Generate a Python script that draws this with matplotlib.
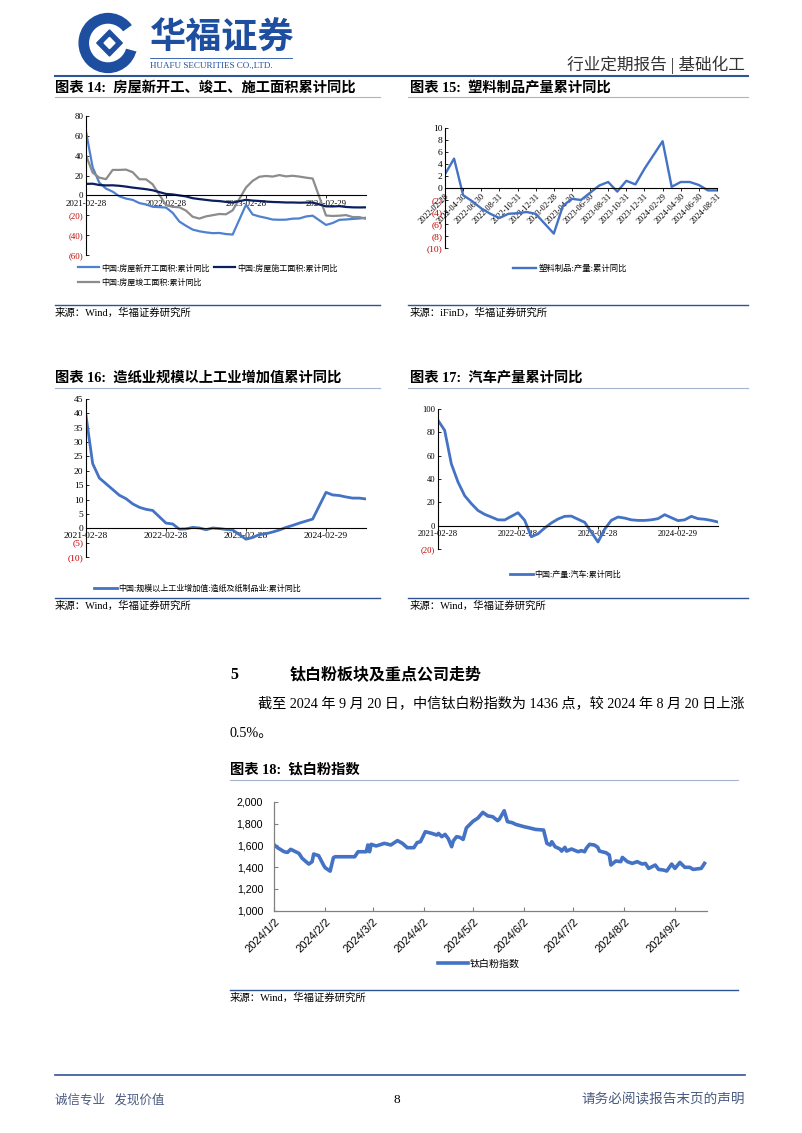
import numpy as np
import pandas as pd
import matplotlib
matplotlib.use('Agg')
import matplotlib.pyplot as plt
from matplotlib.lines import Line2D
from matplotlib.patches import Circle, Polygon, Wedge

plt.rcParams['font.family'] = ['Liberation Serif', 'Noto Sans CJK SC']
plt.rcParams['axes.unicode_minus'] = False

# ---------------- 数据 ----------------
# 图表14: 房屋新开工/施工/竣工面积累计同比 (月度, 无1月)
dates14 = ['2021-02', '2021-03', '2021-04', '2021-05', '2021-06', '2021-07', '2021-08', '2021-09',
           '2021-10', '2021-11', '2021-12',
           '2022-02', '2022-03', '2022-04', '2022-05', '2022-06', '2022-07', '2022-08', '2022-09',
           '2022-10', '2022-11', '2022-12',
           '2023-02', '2023-03', '2023-04', '2023-05', '2023-06', '2023-07', '2023-08', '2023-09',
           '2023-10', '2023-11', '2023-12',
           '2024-02', '2024-03', '2024-04', '2024-05', '2024-06', '2024-07', '2024-08']
new_start = [64.3, 28.2, 12.8, 6.9, 3.8, -0.9, -3.2, -4.5, -7.7, -9.1, -11.4,
             -12.2, -17.5, -26.3, -30.6, -34.4, -36.1, -37.2, -38.0, -37.8, -38.9, -39.4,
             -9.4, -19.2, -21.2, -22.6, -24.3, -24.5, -24.4, -23.4, -23.2, -21.2, -20.4,
             -29.7, -27.8, -24.6, -24.2, -23.7, -23.2, -22.5]
under_constr = [11.6, 11.8, 10.5, 10.1, 10.2, 9.7, 8.9, 7.9, 7.1, 6.3, 5.2,
                1.5, 1.0, 0.0, -1.0, -2.8, -3.7, -4.5, -5.3, -5.7, -6.5, -7.2,
                -4.4, -5.2, -5.6, -6.2, -6.6, -6.8, -7.1, -7.1, -7.3, -7.2, -7.2,
                -11.0, -11.1, -10.8, -11.6, -12.0, -12.1, -12.0]
completed = [40.4, 22.9, 17.9, 16.4, 25.7, 25.7, 26.0, 23.4, 16.3, 16.2, 11.2,
             -9.8, -11.5, -11.9, -15.3, -21.5, -23.3, -21.1, -19.9, -18.7, -19.0, -15.0,
             8.0, 14.7, 18.8, 19.6, 19.0, 20.5, 19.2, 19.8, 19.0, 17.9, 17.0,
             -20.2, -20.7, -20.4, -19.8, -21.8, -21.8, -23.6]

# 图表15: 塑料制品产量累计同比
dates15 = ['2022-02', '2022-03', '2022-04', '2022-05', '2022-06', '2022-07', '2022-08', '2022-09',
           '2022-10', '2022-11', '2022-12',
           '2023-02', '2023-03', '2023-04', '2023-05', '2023-06', '2023-07', '2023-08', '2023-09',
           '2023-10', '2023-11', '2023-12',
           '2024-02', '2024-03', '2024-04', '2024-05', '2024-06', '2024-07', '2024-08']
plastic = [2.3, 4.9, -1.2, -2.2, -3.4, -4.3, -5.0, -4.3, -4.2, -4.0, -4.3,
           -7.6, -3.0, -1.8, -2.0, -0.8, 0.4, 1.0, -0.6, 1.2, 0.6, 3.2,
           7.8, 0.2, 1.0, 1.0, 0.5, -0.4, -0.4]
labels15 = ['2022-02-28', '2022-04-30', '2022-06-30', '2022-08-31', '2022-10-31', '2022-12-31',
            '2023-02-28', '2023-04-30', '2023-06-30', '2023-08-31', '2023-10-31', '2023-12-31',
            '2024-02-29', '2024-04-30', '2024-06-30', '2024-08-31']

# 图表16: 造纸业增加值累计同比
paper = [39.2, 22.5, 17.5, 15.5, 13.5, 11.5, 10.3, 8.5, 7.3, 6.6, 6.2,
         1.8, 1.5, -0.3, -0.2, 0.3, 0.1, -0.5, 0.1, -0.1, -0.4, -0.6,
         -3.8, -3.2, -2.2, -1.9, -1.3, -0.6, 0.3, 1.0, 1.8, 2.5, 3.2,
         12.5, 11.6, 11.4, 10.9, 10.5, 10.5, 10.2]

# 图表17: 汽车产量累计同比
autos = [90.3, 81.7, 53.0, 37.4, 25.7, 18.9, 13.0, 9.7, 7.4, 5.0, 4.9,
         11.1, 4.6, -9.5, -7.0, -2.0, 2.3, 5.7, 8.0, 8.2, 5.5, 2.9,
         -14.0, -3.0, 4.6, 7.4, 6.5, 5.0, 4.5, 4.5, 5.0, 6.0, 9.4,
         4.3, 5.0, 8.0, 6.0, 5.5, 4.5, 3.1]
labels_yr = ['2021-02-28', '2022-02-28', '2023-02-28', '2024-02-29']

# 图表18: 钛白粉指数
dates18 = ['01-02', '01-04', '01-08', '01-10', '01-12', '01-15', '01-17', '01-19', '01-23', '01-25',
           '01-26', '01-29', '02-01', '02-02', '02-05', '02-07', '02-08', '02-19', '02-20', '02-22',
           '02-26', '02-27', '02-28', '02-29', '03-01', '03-04', '03-06', '03-09', '03-13', '03-17',
           '03-20', '03-23', '03-27', '03-29', '03-31', '04-03', '04-07', '04-10', '04-11', '04-13',
           '04-15', '04-17', '04-19', '04-20', '04-22', '04-24', '04-26', '04-28', '05-02', '05-05',
           '05-08', '05-11', '05-14', '05-17', '05-18', '05-21', '05-23', '05-26', '05-28', '06-02',
           '06-05', '06-09', '06-14', '06-16', '06-18', '06-19', '06-21', '06-24', '06-25', '06-27',
           '06-28', '07-01', '07-05', '07-07', '07-09', '07-10', '07-12', '07-15', '07-17', '07-18',
           '07-22', '07-24', '07-25', '07-28', '07-31', '08-01', '08-04', '08-07', '08-10', '08-13',
           '08-15', '08-17', '08-21', '08-23', '08-26', '08-28', '08-31', '09-02', '09-05', '09-08',
           '09-11', '09-13', '09-18', '09-20']
tio2 = [1603, 1578, 1541, 1535, 1563, 1541, 1526, 1480, 1428, 1449,
        1520, 1505, 1418, 1394, 1363, 1486, 1495, 1495, 1495, 1541,
        1541, 1541, 1603, 1541, 1609, 1594, 1603, 1618, 1603, 1643,
        1618, 1578, 1578, 1625, 1633, 1725, 1709, 1694, 1709, 1679,
        1700, 1660, 1587, 1640, 1679, 1673, 1654, 1760, 1820, 1850,
        1902, 1870, 1862, 1826, 1838, 1917, 1817, 1807, 1792, 1771,
        1761, 1746, 1740, 1618, 1602, 1633, 1587, 1566, 1547, 1581,
        1547, 1566, 1541, 1551, 1541, 1572, 1609, 1602, 1581, 1547,
        1532, 1511, 1419, 1456, 1450, 1489, 1450, 1434, 1450, 1428,
        1434, 1388, 1419, 1379, 1373, 1364, 1428, 1388, 1443, 1398,
        1398, 1379, 1388, 1434]
ticks18 = ['2024-01-02', '2024-02-02', '2024-03-02', '2024-04-02', '2024-05-02',
           '2024-06-02', '2024-07-02', '2024-08-02', '2024-09-02']
labels18 = ['2024/1/2', '2024/2/2', '2024/3/2', '2024/4/2', '2024/5/2',
            '2024/6/2', '2024/7/2', '2024/8/2', '2024/9/2']

# ---------------- 画布 ----------------
W, H = 802, 1133
fig = plt.figure(figsize=(W / 100, H / 100), dpi=100)
fig.patch.set_facecolor('white')


def fx(x):
    return x / W


def fy(y):
    return 1 - y / H


def add_ax(x0, y0, x1, y1):
    return fig.add_axes([fx(x0), fy(y1), (x1 - x0) / W, (y1 - y0) / H])


def hline(x0, x1, y, color, lw):
    fig.add_artist(Line2D([fx(x0), fx(x1)], [fy(y), fy(y)], color=color, lw=lw,
                          transform=fig.transFigure))


def txt(x, y, s, **kw):
    kw.setdefault('va', 'center')
    fig.text(fx(x), fy(y), s, **kw)


def month_pos(dates, start):
    d = pd.to_datetime(dates)
    s = pd.Timestamp(start)
    return ((d.year - s.year) * 12 + (d.month - s.month)).to_numpy()


def style_yoy(ax, yticks, fs_y, fs_x):
    for s in ['top', 'right']:
        ax.spines[s].set_visible(False)
    ax.spines['bottom'].set_position(('data', 0))
    ax.spines['left'].set_linewidth(0.8)
    ax.spines['bottom'].set_linewidth(0.8)
    ax.set_yticks(yticks)
    ax.set_yticklabels([f'({abs(v)})' if v < 0 else f'{v}' for v in yticks], fontsize=fs_y)
    for lab, v in zip(ax.get_yticklabels(), yticks):
        lab.set_color('#C00000' if v < 0 else 'black')
    ax.tick_params(axis='y', direction='in', length=2, pad=2, width=0.6)
    ax.tick_params(axis='x', direction='out', length=2, pad=1, width=0.6, labelsize=fs_x)
    ax.set_facecolor('none')


BLUE = '#4472C4'
LINE_BLUE = '#2F5597'
SOFT = '#A6B4D0'

# ---------------- 页眉 ----------------
lg = add_ax(70, 12, 146, 74)
lg.set_xlim(-1.25, 1.25)
lg.set_ylim(-1.0, 1.0)
lg.axis('off')
lg.add_patch(Circle((0, 0), 0.95, color='#1E4EA0'))
lg.add_patch(Circle((0, 0), 0.6, color='white'))
lg.add_patch(Wedge((0, 0), 0.97, -15, 35, width=0.4, color='white'))
lg.add_patch(Polygon([[0.05, 0.42], [0.47, 0.0], [0.05, -0.42], [-0.37, 0.0]], color='#1E4EA0'))
lg.add_patch(Polygon([[0.05, 0.18], [0.23, 0.0], [0.05, -0.18], [-0.13, 0.0]], color='white'))

txt(150, 38, '华福证券', fontsize=26, fontweight='bold', color='#1E4EA0', family='Noto Sans CJK SC')
hline(150, 292, 58, '#1E4EA0', 0.6)
txt(150, 66, 'HUAFU SECURITIES CO.,LTD.', fontsize=6.5, color='#1E4EA0')
txt(745, 65, '行业定期报告 | 基础化工', fontsize=12, color='#333333', ha='right')
hline(55, 748, 76, LINE_BLUE, 1.5)

# ---------------- 图表标题/来源 ----------------
txt(55, 88, '图表 14:  房屋新开工、竣工、施工面积累计同比', fontsize=10.3, fontweight='bold')
txt(410, 88, '图表 15:  塑料制品产量累计同比', fontsize=10.3, fontweight='bold')
hline(55, 380, 97, SOFT, 0.8)
hline(408, 748, 97, SOFT, 0.8)
hline(55, 380, 305, LINE_BLUE, 1.0)
hline(408, 748, 305, LINE_BLUE, 1.0)
txt(55, 313, '来源：Wind，华福证券研究所', fontsize=7.5)
txt(410, 313, '来源：iFinD，华福证券研究所', fontsize=7.5)

txt(55, 378, '图表 16:  造纸业规模以上工业增加值累计同比', fontsize=10.3, fontweight='bold')
txt(410, 378, '图表 17:  汽车产量累计同比', fontsize=10.3, fontweight='bold')
hline(55, 380, 388, SOFT, 0.8)
hline(408, 748, 388, SOFT, 0.8)
hline(55, 380, 598, LINE_BLUE, 1.0)
hline(408, 748, 598, LINE_BLUE, 1.0)
txt(55, 606, '来源：Wind，华福证券研究所', fontsize=7.5)
txt(410, 606, '来源：Wind，华福证券研究所', fontsize=7.5)

# ---------------- 图表14 ----------------
ax = add_ax(86, 116, 366, 255)
x14 = month_pos(dates14, '2021-02')
l1, = ax.plot(x14, new_start, color='#4F81D0', lw=1.6)
l3, = ax.plot(x14, completed, color='#8C8C8C', lw=1.6)
l2, = ax.plot(x14, under_constr, color='#0B1F5E', lw=1.6)
ax.set_xlim(0, 42)
ax.set_ylim(-60, 80)
style_yoy(ax, [-60, -40, -20, 0, 20, 40, 60, 80], 6.3, 6.3)
ax.set_xticks([0, 12, 24, 36])
ax.set_xticklabels(labels_yr)
ax.legend([l1, l3, l2], ['中国:房屋新开工面积:累计同比', '中国:房屋竣工面积:累计同比',
                         '中国:房屋施工面积:累计同比'],
          loc='upper left', bbox_to_anchor=(fx(78), fy(264)), bbox_transform=fig.transFigure,
          ncol=2, frameon=False, fontsize=5.8, handlelength=2.6, handletextpad=0.3,
          columnspacing=0.5, labelspacing=0.75, borderaxespad=0, borderpad=0)

# ---------------- 图表15 ----------------
ax = add_ax(445, 128, 717, 248)
x15 = month_pos(dates15, '2022-02')
l, = ax.plot(x15, plastic, color=BLUE, lw=1.7)
ax.set_xlim(0, 30)
ax.set_ylim(-10, 10)
style_yoy(ax, list(range(-10, 11, 2)), 6.8, 6)
ax.set_xticks(np.arange(0, 31, 2))
ax.set_xticklabels(labels15, rotation=45, ha='right', va='top', rotation_mode='anchor')
ax.legend([l], ['塑料制品:产量:累计同比'], loc='upper left',
          bbox_to_anchor=(fx(513), fy(265)), bbox_transform=fig.transFigure,
          frameon=False, fontsize=6, handlelength=2.8, handletextpad=0.3,
          borderaxespad=0, borderpad=0)

# ---------------- 图表16 ----------------
ax = add_ax(86, 399, 366, 557)
l, = ax.plot(x14, paper, color=BLUE, lw=2.0)
ax.set_xlim(0, 42)
ax.set_ylim(-10, 45)
style_yoy(ax, list(range(-10, 46, 5)), 6.8, 6.8)
ax.set_xticks([0, 12, 24, 36])
ax.set_xticklabels(labels_yr)
ax.legend([l], ['中国:规模以上工业增加值:造纸及纸制品业:累计同比'], loc='upper left',
          bbox_to_anchor=(fx(94), fy(585)), bbox_transform=fig.transFigure,
          frameon=False, fontsize=5.8, handlelength=2.8, handletextpad=0.2,
          borderaxespad=0, borderpad=0)

# ---------------- 图表17 ----------------
ax = add_ax(438, 409, 718, 549)
l, = ax.plot(x14, autos, color=BLUE, lw=2.0)
ax.set_xlim(0, 42)
ax.set_ylim(-20, 100)
style_yoy(ax, list(range(-20, 101, 20)), 6.2, 6.2)
ax.set_xticks([0, 12, 24, 36])
ax.set_xticklabels(labels_yr)
ax.legend([l], ['中国:产量:汽车:累计同比'], loc='upper left',
          bbox_to_anchor=(fx(510), fy(571)), bbox_transform=fig.transFigure,
          frameon=False, fontsize=5.8, handlelength=2.8, handletextpad=0.2,
          borderaxespad=0, borderpad=0)

# ---------------- 正文 ----------------
txt(230, 675, '5', fontsize=11.5, fontweight='bold')
txt(290, 675, '钛白粉板块及重点公司走势', fontsize=11.5, fontweight='bold')
txt(258, 704, '截至 2024 年 9 月 20 日，中信钛白粉指数为 1436 点，较 2024 年 8 月 20 日上涨', fontsize=10.2)
txt(230, 733, '0.5%。', fontsize=10.2)
txt(230, 770, '图表 18:  钛白粉指数', fontsize=10.3, fontweight='bold')
hline(230, 738, 780, SOFT, 0.8)

# ---------------- 图表18 ----------------
ax = add_ax(274.3, 801.7, 707.3, 910.7)
x18 = pd.to_datetime(['2024-' + d for d in dates18])
l, = ax.plot(x18, tio2, color=BLUE, lw=2.6)
t0 = pd.Timestamp('2024-01-02')
ax.set_xlim(t0, t0 + pd.Timedelta(days=263.7))
ax.set_ylim(1000, 2000)
for s in ['top', 'right']:
    ax.spines[s].set_visible(False)
for s in ['left', 'bottom']:
    ax.spines[s].set_color('#808080')
    ax.spines[s].set_linewidth(0.9)
ax.set_yticks(np.arange(1000, 2001, 200))
ax.set_yticklabels([f'{v:,}' for v in range(1000, 2001, 200)], fontsize=7.7, family='Liberation Sans')
ax.set_xticks(pd.to_datetime(ticks18))
ax.set_xticklabels(labels18, rotation=45, ha='right', va='top', rotation_mode='anchor',
                   fontsize=8, family='Liberation Sans')
ax.tick_params(axis='both', direction='in', length=3, color='#808080', width=0.8)
ax.tick_params(axis='y', pad=8)
ax.tick_params(axis='x', pad=4)
ax.legend([l], ['钛白粉指数'], loc='upper left',
          bbox_to_anchor=(fx(438), fy(959)), bbox_transform=fig.transFigure,
          frameon=False, fontsize=7.2, handlelength=3.0, handletextpad=0.2,
          borderaxespad=0, borderpad=0)

hline(230, 738, 990, LINE_BLUE, 1.0)
txt(230, 998, '来源：Wind，华福证券研究所', fontsize=7.5)

# ---------------- 页脚 ----------------
hline(55, 745, 1075, LINE_BLUE, 1.2)
txt(55, 1100, '诚信专业   发现价值', fontsize=9, color='#4A5A80')
txt(397, 1100, '8', fontsize=9.5, ha='center')
txt(745, 1100, '请务必阅读报告末页的声明', fontsize=9.8, color='#4A5A80', ha='right')

fig.savefig('out.png', dpi=100, facecolor='white')
